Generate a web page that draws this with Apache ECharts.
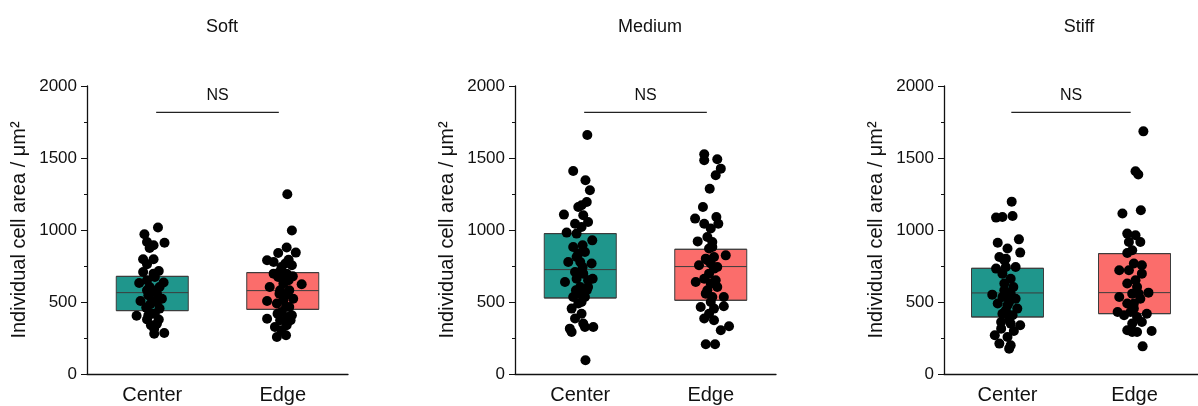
<!DOCTYPE html>
<html>
<head>
<meta charset="utf-8">
<script src="https://cdn.jsdelivr.net/npm/echarts@6/dist/echarts.min.js"></script>
<style>
  html, body { margin: 0; padding: 0; background: #fff; }
  #main { width: 1198px; height: 406px; }
</style>
</head>
<body>
<div id="main"></div>
<script>
// categories and panels
var categories = ['Center', 'Edge'];
var panels = ['Soft', 'Medium', 'Stiff'];
var yTicks = [0, 500, 1000, 1500, 2000];
var nsLevel = 1817;

// boxes: [Q1, median, Q3] for Center, Edge
var softBox = [[440, 565, 678], [449, 579, 704]];
var mediumBox = [[528, 725, 975], [512, 746, 866]];
var stiffBox = [[396, 563, 734], [419, 565, 836]];

// points: [horizontal offset from category centre, cell area]
var softCenter = [
  [0.044, 1017], [-0.06, 970], [0.094, 912], [-0.04, 917], [0.01, 894], [-0.02, 875],
  [-0.07, 797], [0.01, 797], [-0.04, 762], [-0.07, 708], [0.05, 715], [0.02, 674],
  [0.087, 635], [-0.10, 632], [-0.04, 651], [0, 581], [0.036, 558], [-0.03, 547],
  [-0.09, 507], [0, 505], [0.074, 523], [-0.046, 461], [0.056, 454], [0, 419],
  [-0.12, 405], [-0.04, 378], [0.05, 378], [-0.01, 338], [0.015, 315], [0.015, 280],
  [0.092, 285], [0.036, 500], [-0.02, 604], [0.056, 604], [0.01, 697], [0.02, 419],
  [-0.03, 408], [0.036, 350], [-0.015, 484], [-0.04, 581]
];
var softEdge = [
  [0.035, 1248], [0.07, 996], [0.03, 878], [0.1, 843], [-0.035, 840], [-0.12, 790],
  [-0.07, 778], [0.045, 794], [-0.01, 743], [0.03, 697], [-0.035, 674], [0.077, 678],
  [0.145, 623], [-0.1, 604], [0.005, 628], [0.05, 581], [-0.025, 558], [0.08, 523],
  [-0.12, 507], [-0.045, 489], [0.025, 465], [-0.01, 431], [0.07, 408], [-0.12, 384],
  [-0.02, 373], [0.06, 373], [-0.06, 327], [0.03, 338], [-0.045, 257], [0.025, 269],
  [-0.01, 304], [0.02, 547], [-0.02, 581], [0.045, 651], [0.005, 512], [-0.025, 708],
  [0.02, 767], [0.05, 465], [-0.04, 419], [0.035, 396], [0, 674], [-0.07, 697], [0.07, 755]
];
var mediumCenter = [
  [0.054, 1660], [-0.054, 1410], [0.04, 1345], [0.074, 1276], [0.05, 1195], [0.01, 1172],
  [-0.015, 1160], [-0.125, 1107], [0.023, 1102], [-0.04, 1044], [0.06, 1056], [-0.104, 982],
  [-0.028, 975], [0.092, 928], [-0.054, 882], [0.018, 894], [-0.015, 836], [-0.092, 778],
  [0, 778], [0.087, 767], [-0.04, 708], [0.023, 697], [-0.117, 639], [-0.028, 662],
  [0.06, 651], [0.095, 662], [0, 604], [0.06, 604], [-0.054, 535], [0.036, 535],
  [-0.015, 489], [-0.066, 454], [0.01, 419], [-0.04, 385], [0.023, 350], [-0.08, 315],
  [0.1, 327], [-0.066, 292], [0.036, 327], [0.04, 95], [0, 558], [0.018, 743],
  [-0.028, 812], [0.036, 847], [0.01, 1021], [0.05, 581], [-0.033, 581], [0.01, 500]
];
var mediumEdge = [
  [-0.05, 1526], [-0.05, 1484], [0.05, 1491], [0.077, 1426], [0.038, 1380], [-0.008, 1287],
  [-0.06, 1160], [-0.12, 1079], [0.043, 1090], [0.058, 1044], [-0.05, 1044], [0, 1010],
  [-0.1, 921], [0.012, 917], [-0.013, 871], [0.115, 824], [0.025, 812], [-0.038, 801],
  [0, 767], [-0.09, 755], [0.05, 743], [-0.013, 697], [-0.115, 639], [-0.05, 662],
  [0.038, 651], [-0.026, 581], [0.05, 604], [0.012, 535], [0.1, 535], [-0.077, 465],
  [0.025, 454], [0.1, 470], [-0.013, 419], [-0.05, 385], [0.025, 373], [0.14, 331],
  [0.077, 304], [-0.038, 206], [0.033, 206], [0, 628], [0.012, 882], [-0.026, 790],
  [0.025, 732], [-0.038, 558], [0, 500], [-0.026, 951]
];
var stiffCenter = [
  [0.033, 1197], [-0.09, 1086], [-0.04, 1090], [0.04, 1097], [0.09, 935], [-0.077, 912],
  [0, 871], [0.1, 843], [-0.064, 812], [-0.025, 790], [0.064, 743], [-0.09, 732],
  [-0.04, 697], [0.025, 662], [-0.025, 628], [0.046, 604], [-0.12, 551], [0, 558],
  [0.064, 523], [-0.077, 489], [0, 477], [0.077, 454], [-0.04, 419], [0.04, 408],
  [-0.05, 361], [0.025, 350], [0.1, 338], [-0.05, 315], [0.05, 299], [-0.1, 269],
  [0, 257], [-0.064, 211], [0.025, 199], [0.013, 176], [-0.013, 743], [0.025, 558],
  [-0.025, 581], [0.013, 500], [-0.013, 442], [-0.013, 801], [0.013, 385], [-0.04, 535]
];
var stiffEdge = [
  [0.07, 1685], [0.008, 1408], [0.03, 1385], [-0.095, 1114], [0.05, 1137], [-0.057, 975],
  [0.008, 963], [0.046, 917], [-0.044, 917], [-0.018, 859], [-0.057, 840], [-0.005, 767],
  [0.058, 755], [-0.12, 720], [-0.044, 720], [0.058, 697], [0.008, 651], [-0.057, 628],
  [0.02, 604], [0.11, 565], [-0.018, 558], [-0.12, 535], [0.046, 523], [-0.057, 489],
  [-0.133, 431], [-0.005, 454], [0.097, 419], [-0.082, 408], [0.02, 396], [0.058, 361],
  [-0.018, 350], [-0.057, 304], [0.02, 292], [0.135, 299], [-0.018, 292], [0.064, 192],
  [-0.005, 489], [0.033, 558], [-0.031, 431]
];

var boxes = [softBox, mediumBox, stiffBox];
var points = [[softCenter, softEdge], [mediumCenter, mediumEdge], [stiffCenter, stiffEdge]];
var boxColors = ['#1f968c', '#fb6d6b'];

var gridLefts = [87, 515, 944];
var font = 'Liberation Sans, Arial, sans-serif';
var ink = '#111';

var chart = echarts.init(document.getElementById('main'));

var grids = [], xAxes = [], yAxes = [], titles = [], series = [];

panels.forEach(function (name, i) {
  grids.push({ left: gridLefts[i], top: 86, width: 261, height: 288 });
  titles.push({
    text: name, left: gridLefts[i] + 130, top: 13, textAlign: 'center',
    textStyle: { fontFamily: font, fontSize: 18, fontWeight: 'normal', color: ink }
  });
  // visible category axis
  xAxes.push({
    type: 'category', gridIndex: i, data: categories,
    axisLine: { lineStyle: { color: ink, width: 1.3 } },
    axisTick: { alignWithLabel: true, length: 5, lineStyle: { color: ink } },
    axisLabel: { fontFamily: font, fontSize: 20, color: ink, margin: 11 }
  });
  // hidden value axis for jittered points
  xAxes.push({
    type: 'value', gridIndex: i, min: -0.5, max: 1.5, show: false,
    splitLine: { show: false }
  });
  yAxes.push({
    type: 'value', gridIndex: i, min: 0, max: 2000, interval: 500,
    name: 'Individual cell area / μm²', nameLocation: 'middle', nameGap: 58,
    nameTextStyle: { fontFamily: font, fontSize: 20, color: ink },
    axisLine: { show: true, onZero: false, lineStyle: { color: ink, width: 1.3 } },
    axisTick: { show: true, length: 6, lineStyle: { color: ink } },
    minorTick: { show: true, splitNumber: 2, length: 3, lineStyle: { color: ink } },
    splitLine: { show: false },
    axisLabel: {
      fontFamily: font, fontSize: 17, color: ink, margin: 10,
      formatter: function (v) { return String(v); }
    }
  });

  series.push({
    type: 'boxplot', xAxisIndex: i * 2, yAxisIndex: i,
    boxWidth: [72, 72],
    data: boxes[i].map(function (b, k) {
      return {
        value: [b[0], b[0], b[1], b[2], b[2]],
        itemStyle: { color: boxColors[k], borderColor: '#3c3c3c', borderWidth: 1 }
      };
    }),
    silent: true, z: 2
  });

  var pts = [];
  points[i].forEach(function (grp, k) {
    grp.forEach(function (p) { pts.push([k + p[0], p[1]]); });
  });
  series.push({
    type: 'scatter', xAxisIndex: i * 2 + 1, yAxisIndex: i,
    data: pts, symbolSize: 10,
    itemStyle: { color: '#000', opacity: 1 }, silent: true, z: 3
  });

  // NS bracket
  series.push({
    type: 'line', xAxisIndex: i * 2 + 1, yAxisIndex: i,
    data: [[0.03, nsLevel], [0.97, nsLevel]],
    symbol: 'none', lineStyle: { color: '#222', width: 1.3 }, silent: true, z: 4
  });
  series.push({
    type: 'scatter', xAxisIndex: i * 2 + 1, yAxisIndex: i,
    data: [[0.5, nsLevel]], symbolSize: 0,
    itemStyle: { opacity: 1 },
    label: {
      show: true, formatter: 'NS', position: 'top', distance: 9,
      fontFamily: font, fontSize: 16, color: ink
    },
    silent: true, z: 4
  });
});

chart.setOption({
  animation: false,
  title: titles,
  grid: grids,
  xAxis: xAxes,
  yAxis: yAxes,
  series: series
});
</script>
</body>
</html>
